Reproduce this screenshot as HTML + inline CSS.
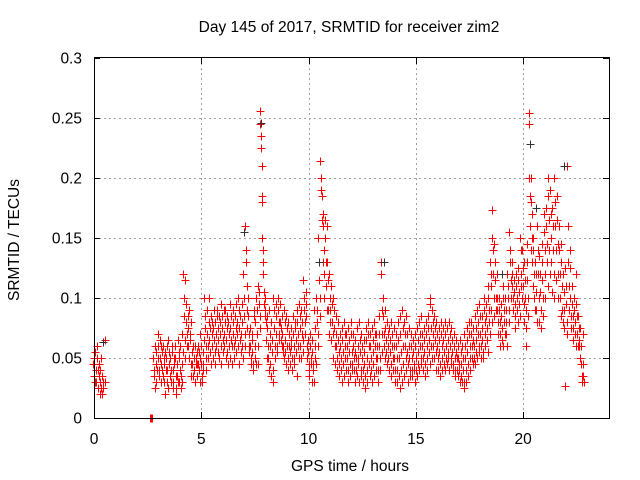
<!DOCTYPE html>
<html><head><meta charset="utf-8"><style>
body{margin:0;background:#fff;}
svg{display:block;font-family:"Liberation Sans",sans-serif;}
</style></head><body>
<svg id="chart" width="640" height="480" viewBox="0 0 640 480" xmlns="http://www.w3.org/2000/svg">
<rect width="640" height="480" fill="#fff"/>
<text x="349" y="32" font-size="15.5" text-anchor="middle">Day 145 of 2017, SRMTID for receiver zim2</text>
<text x="350" y="471" font-size="15.5" text-anchor="middle">GPS time / hours</text>
<text x="0" y="0" font-size="15.5" text-anchor="middle" transform="translate(19,240) rotate(-90)">SRMTID / TECUs</text>
<g id="grid"></g>
<g id="axes"></g>
<g id="marks"></g>
<rect x="94.5" y="57.5" width="515" height="361" fill="none" stroke="#000" stroke-width="1"/>
</svg>
<script>
const xTicks=[0,5,10,15,20];
const yTicks=[0,0.05,0.1,0.15,0.2,0.25,0.3];
const yTickLabels=["0","0.05","0.1","0.15","0.2","0.25","0.3"];
const redTimes=[0.0,0.1,0.2,0.3,0.4,0.5,2.65,2.8,2.9,3.0,3.1,3.2,3.3,3.4,3.5,3.6,3.7,3.8,3.9,4.0,4.1,4.2,4.3,4.4,4.5,4.6,4.7,4.8,4.9,5.0,5.1,5.2,5.3,5.4,5.5,5.6,5.7,5.8,5.9,6.0,6.1,6.2,6.3,6.4,6.5,6.6,6.7,6.8,6.9,7.0,7.1,7.2,7.3,7.4,7.5,7.6,7.7,7.8,7.9,8.0,8.1,8.2,8.3,8.4,8.5,8.6,8.7,8.8,8.9,9.0,9.1,9.2,9.3,9.4,9.5,9.6,9.7,9.8,9.9,10.0,10.1,10.2,10.3,10.4,10.5,10.6,10.7,10.8,10.9,11.0,11.1,11.2,11.3,11.4,11.5,11.6,11.7,11.8,11.9,12.0,12.1,12.2,12.3,12.4,12.5,12.6,12.7,12.8,12.9,13.0,13.1,13.2,13.3,13.4,13.5,13.6,13.7,13.8,13.9,14.0,14.1,14.2,14.3,14.4,14.5,14.6,14.7,14.8,14.9,15.0,15.1,15.2,15.3,15.4,15.5,15.6,15.7,15.8,15.9,16.0,16.1,16.2,16.3,16.4,16.5,16.6,16.7,16.8,16.9,17.0,17.1,17.2,17.3,17.4,17.5,17.6,17.7,17.8,17.9,18.0,18.1,18.2,18.3,18.4,18.5,18.6,18.7,18.8,18.9,19.0,19.1,19.2,19.3,19.4,19.5,19.6,19.7,19.8,19.9,20.0,20.1,20.2,20.3,20.4,20.5,20.6,20.7,20.8,20.9,21.0,21.1,21.2,21.3,21.4,21.5,21.6,21.7,21.8,21.9,22.0,22.1,22.2,22.3,22.4,22.5,22.6,22.7,22.8];
const redValues=[
[.045,.035,.05,.03],[.055,.04,.03,.05,.06],[.05,.04,.025,.035,.045],[.03,.02,.04,.025,.05],[.035,.02,.03,.025],[.065,.03],[0,0,0,0,0],
[.05,.04,.035,.06,.025],[.045,.055,.03,.04],[.07,.06,.05,.04,.035],[.065,.05,.045,.06,.03],[.055,.04,.06,.035,.05],[.045,.03,.02,.055,.04],[.05,.06,.04,.03,.025],[.065,.055,.045,.035,.05],[.05,.04,.03,.06,.055],[.04,.03,.025,.045,.05],[.06,.05,.035,.025,.02],[.045,.035,.065,.03,.055],[.05,.03,.04,.06,.025],[.035,.045,.03,.07,.055],
[.12,.1,.085,.065,.05],[.115,.095,.08,.06,.07],[.085,.075,.06,.05,.09],[.065,.07,.045,.035,.08],[.055,.045,.06,.035,.05],[.05,.04,.03,.06,.045],[.05,.035,.045,.055,.06],[.045,.055,.04,.03,.05],[.07,.06,.045,.035,.03],[.055,.045,.04,.065,.1],
[.075,.085,.06,.04,.05],[.09,.07,.06,.05,.1],[.08,.065,.055,.075,.045],[.085,.07,.06,.08,.05],[.075,.09,.065,.055,.045],[.08,.07,.06,.09,.085],[.075,.065,.055,.085,.05],[.07,.08,.06,.095,.045],[.085,.075,.065,.055,.09],[.07,.06,.08,.09,.05],[.065,.075,.085,.055,.045],[.08,.07,.06,.095,.05],[.075,.085,.065,.06,.045],[.07,.09,.08,.06,.05],[.085,.065,.075,.055,.095],[.08,.07,.06,.1,.045],[.09,.075,.065,.085,.055],[.07,.095,.08,.06,.05],
[.12,.1,.085,.07,.06],[.16,.14,.13,.11,.09,.075],[.1,.085,.07,.06,.055],[.075,.06,.05,.045,.065],[.07,.055,.045,.04,.085],[.09,.08,.06,.05,.045],[.1,.09,.07,.06,.045],[.11,.105,.095,.085,.075],[.256,.245,.235,.225,.21,.185,.15,.13],[.18,.14,.12,.105,.095,.085],
[.1,.09,.08,.065,.05],[.085,.075,.06,.05,.04],[.09,.07,.06,.045,.035],[.08,.065,.055,.04,.03],[.1,.09,.075,.06,.05],[.095,.085,.07,.06,.055],[.1,.09,.08,.07,.065],[.095,.08,.075,.065,.06],[.085,.07,.06,.055,.05],[.09,.08,.065,.055,.045],[.085,.075,.06,.05,.04],[.08,.07,.06,.055,.045],[.075,.065,.06,.05,.04],[.085,.07,.06,.05,.045],[.08,.075,.065,.055,.035],[.09,.08,.07,.06,.05],[.095,.085,.075,.06,.05],[.09,.08,.07,.065,.055],[.115,.1,.09,.08,.07],[.105,.095,.085,.06,.05],
[.065,.055,.045,.04,.035],[.07,.06,.05,.045,.03],[.065,.055,.045,.04,.03],[.09,.075,.06,.05,.045],[.1,.09,.08,.07,.06],[.15,.13,.115,.1,.085],[.214,.2,.19,.185,.165,.13],[.17,.16,.14,.12,.1],[.165,.15,.13,.11,.09],[.16,.13,.115,.09,.07],
[.12,.1,.09,.08,.065],[.11,.095,.08,.07,.05],[.1,.09,.075,.06,.045],[.085,.07,.06,.05,.04],[.08,.065,.055,.045,.035],[.07,.06,.05,.04,.03],[.075,.065,.055,.045,.035],[.08,.07,.06,.05,.04],[.07,.06,.05,.04,.03],[.075,.065,.055,.045,.035],
[.08,.07,.055,.045,.04],[.07,.06,.05,.04,.03],[.065,.055,.05,.04,.035],[.075,.06,.05,.045,.03],[.08,.065,.055,.04,.035],[.07,.06,.05,.04,.03],[.065,.055,.045,.035,.025],[.075,.065,.05,.04,.03],[.08,.07,.06,.045,.035],[.07,.06,.05,.04,.03],
[.075,.065,.055,.045,.035],[.08,.07,.06,.05,.04],[.07,.06,.05,.04,.03],[.085,.07,.06,.05,.04],[.13,.12,.09,.07,.055],[.1,.085,.07,.06,.05],[.09,.075,.065,.055,.045],[.08,.07,.06,.05,.04],[.075,.065,.055,.045,.035],[.08,.07,.06,.05,.04],
[.075,.06,.05,.04,.03],[.07,.06,.05,.04,.03],[.08,.065,.05,.035,.025],[.085,.07,.055,.04,.03],[.09,.075,.06,.045,.035],[.08,.07,.06,.05,.04],[.085,.07,.055,.045,.03],[.075,.06,.05,.04,.035],[.07,.06,.05,.04,.035],[.065,.055,.045,.04,.03],
[.07,.06,.05,.04,.035],[.075,.065,.055,.045,.04],[.08,.07,.06,.05,.045],[.085,.07,.06,.05,.04],[.075,.065,.055,.045,.035],[.08,.07,.06,.05,.04],[.085,.075,.065,.055,.045],[.1,.095,.075,.06,.05],[.09,.08,.07,.06,.05],[.085,.075,.065,.055,.04],
[.08,.07,.06,.05,.04],[.075,.065,.055,.045,.035],[.08,.07,.06,.05,.04],[.075,.065,.055,.045,.04],[.08,.07,.06,.05,.045],[.075,.065,.055,.05,.04],[.08,.07,.06,.05,.045],[.075,.065,.055,.045,.04],[.07,.06,.05,.04,.035],[.065,.055,.05,.04,.035],
[.06,.05,.045,.04,.03],[.065,.055,.045,.035,.03],[.06,.05,.04,.03,.025],[.07,.06,.05,.04,.03],[.075,.065,.055,.045,.035],[.08,.07,.06,.05,.04],[.08,.07,.06,.05,.045],[.075,.065,.06,.05,.045],[.085,.075,.065,.055,.05],[.09,.08,.07,.06,.055],
[.095,.085,.07,.06,.05],[.085,.075,.065,.055,.05],[.1,.09,.08,.07,.06],[.095,.085,.075,.065,.055],[.11,.1,.09,.08,.07],[.13,.12,.11,.09,.08],[.173,.15,.14,.12,.1,.085],[.145,.13,.115,.1,.09],[.12,.1,.09,.08,.07],[.1,.09,.08,.07,.06],
[.095,.085,.075,.065,.06],[.11,.1,.09,.08,.07],[.1,.09,.08,.07,.06],[.12,.11,.1,.09,.08],[.155,.14,.13,.115,.1],[.13,.12,.11,.1,.09],[.115,.105,.095,.085,.075],[.12,.11,.1,.09,.08],[.125,.115,.105,.095,.085],[.15,.14,.12,.11,.1],
[.14,.125,.11,.095,.08],[.13,.115,.1,.09,.075,.06],[.145,.13,.115,.1,.085],[.254,.245,.2,.185,.16,.14],[.2,.18,.17,.15,.13,.11],[.15,.14,.12,.1,.09],[.13,.12,.105,.09,.08],[.16,.14,.12,.1,.08],[.135,.12,.105,.09,.075],[.145,.13,.115,.1,.085],
[.17,.155,.14,.12,.1],[.175,.16,.145,.13,.11],[.2,.185,.165,.14,.12],[.19,.17,.15,.13,.105],[.175,.16,.14,.12,.1],[.2,.18,.16,.14,.115],[.185,.165,.145,.12,.1],[.16,.14,.12,.1,.085],[.145,.13,.11,.09,.08],[.12,.105,.09,.075,.027],
[.125,.11,.095,.08,.07],[.21,.16,.13,.11,.09],[.14,.125,.1,.085,.075],[.11,.095,.085,.075,.065],[.1,.09,.08,.07,.06],[.12,.095,.085,.07,.06],[.085,.075,.065,.06,.05],[.075,.06,.045,.035,.03],[.07,.045,.035,.03]
];
const darkTimes=[0.4,7.0,7.8,10.5,13.5,19.0,20.3,20.6,21.9];
const darkValues=[.063,.155,.246,.13,.13,.12,.228,.175,.21];

const NS="http://www.w3.org/2000/svg";
const X0=94,X1=609,Y0=418,Y1=58,XMAX=24,YMAX=0.3;
function xs(t){return X0+(X1-X0)*t/XMAX;}
function ys(v){return Y0-(Y0-Y1)*v/YMAX;}
const grid=document.getElementById('grid'),axes=document.getElementById('axes'),marks=document.getElementById('marks');
function line(p,x1,y1,x2,y2,st,dash){const l=document.createElementNS(NS,'line');l.setAttribute('x1',x1);l.setAttribute('y1',y1);l.setAttribute('x2',x2);l.setAttribute('y2',y2);l.setAttribute('stroke',st);l.setAttribute('stroke-width',1);if(dash)l.setAttribute('stroke-dasharray',dash);p.appendChild(l);return l;}
function text(p,x,y,s,anchor){const t=document.createElementNS(NS,'text');t.setAttribute('x',x);t.setAttribute('y',y);t.setAttribute('font-size','15.5');t.setAttribute('text-anchor',anchor);t.textContent=s;p.appendChild(t);return t;}
xTicks.forEach(t=>{const x=Math.round(xs(t))+0.5;
  if(t>0){const g=line(grid,x,Y1,x,Y0,'#a0a0a0','2,3');
  
  }
  const a=line(axes,x,Y0,x,Y0-6,'#000');
  
  
  const b=line(axes,x,Y1,x,Y1+6,'#000');
  
  
  const lb=text(axes,xs(t),444,String(t),'middle');
  
  
});
yTicks.forEach((v,i)=>{const y=Math.round(ys(v))+0.5;
  if(v>0&&v<YMAX){const g=line(grid,X0,y,X1,y,'#a0a0a0','2,3');
  
  }
  const a=line(axes,X0,y,X0+6,y,'#000');
  
  
  const b=line(axes,X1,y,X1-6,y,'#000');
  
  
  const lb=text(axes,82,ys(v)+5.5,yTickLabels[i],'end');
  
  
});
function plus(x,y,col){const p=document.createElementNS(NS,'path');const cx=Math.round(x)+0.5,cy=Math.round(y)+0.5;p.setAttribute('d','M'+(cx-4)+' '+cy+'H'+(cx+4)+'M'+cx+' '+(cy-4)+'V'+(cy+4));p.setAttribute('stroke',col);p.setAttribute('stroke-width','1');p.setAttribute('fill','none');marks.appendChild(p);return p;}
const SPREAD=0.02;
redTimes.forEach((t,i)=>{const n=redValues[i].length;redValues[i].forEach((v,j)=>{const m=plus(xs(t+(j-(n-1)/2)*SPREAD),ys(v),'#ff0000');
  
  });});
darkTimes.forEach((t,i)=>{const m=plus(xs(t),ys(darkValues[i]),'#333333');
  
  });
</script>
</body></html>
